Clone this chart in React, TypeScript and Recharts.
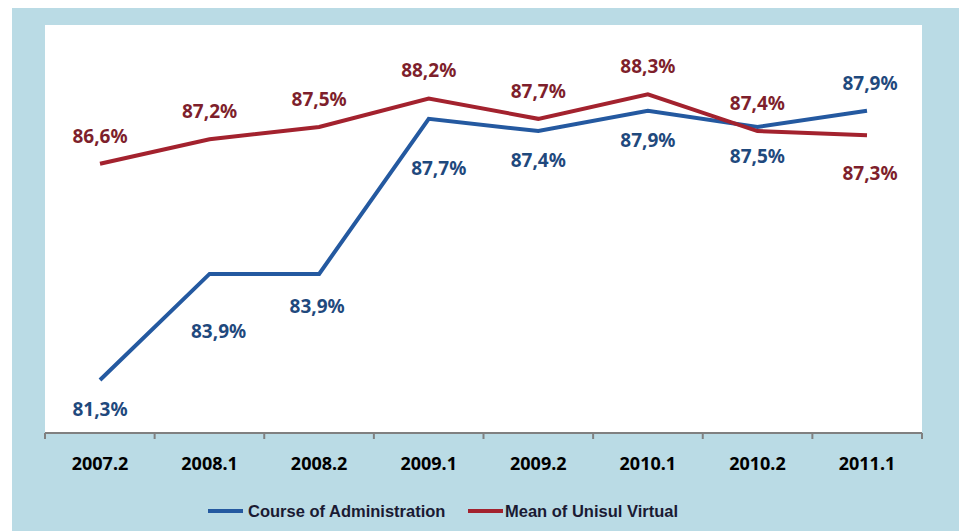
import React from 'react';
import { LineChart, Line, XAxis, YAxis, CartesianGrid, LabelList, Legend } from 'recharts';

// semesters on the x axis
const periods = ['2007.2', '2008.1', '2008.2', '2009.1', '2009.2', '2010.1', '2010.2', '2011.1'];
// satisfaction (%) per semester
const courseAdmin = [81.3, 83.9, 83.9, 87.7, 87.4, 87.9, 87.5, 87.9];
const unisulMean = [86.6, 87.2, 87.5, 88.2, 87.7, 88.3, 87.4, 87.3];
const boundaryTicks = [0, 1, 2, 3, 4, 5, 6, 7, 8];

const data = periods.map((period, i) => ({
  period,
  idx: i,
  course: courseAdmin[i],
  mean: unisulMean[i],
}));

const BLUE = '#2459a0';
const RED = '#a3222e';
const BLUE_TEXT = '#1f497d';
const RED_TEXT = '#7e1f2c';
const FONT = '"Noto Sans", sans-serif';
const LAST = periods.length - 1;

// hand nudges [dx, dy] for a few labels that sit further off the line
const courseNudge: Record<number, [number, number]> = { 1: [9, 57], 2: [-2, 32], 3: [10, 49] };

const fmt = (v: number) => v.toFixed(1).replace('.', ',') + '%';

// mean labels sit above its line, course labels below; swapped on the last point
const makeLabel = (series: 'course' | 'mean') => (props: any) => {
  const { x, y, value, index } = props;
  const above = series === 'mean' ? index !== LAST : index === LAST;
  let dy = above ? -28 : 29;
  let dx = 0;
  if (series === 'course' && courseNudge[index]) [dx, dy] = courseNudge[index];
  if (index === LAST) { dx = 3; if (!above) dy = 38; }
  return (
    <text
      x={x + dx}
      y={y + dy}
      textAnchor="middle"
      dominantBaseline="central"
      fontFamily={FONT}
      fontWeight={700}
      fontSize={19}
      fill={series === 'course' ? BLUE_TEXT : RED_TEXT}
    >
      {fmt(value)}
    </text>
  );
};

const renderLegend = () => (
  <div style={{ position: 'relative', height: 24, fontFamily: '"Liberation Sans", Arial, sans-serif', fontWeight: 700, fontSize: 16.5, color: '#1a1a33' }}>
    <div style={{ position: 'absolute', left: 196, top: 0, display: 'flex', alignItems: 'center', height: 24 }}>
      <span style={{ display: 'inline-block', width: 35, height: 4, background: BLUE, marginRight: 5 }} />
      <span>Course of Administration</span>
    </div>
    <div style={{ position: 'absolute', left: 456, top: 0, display: 'flex', alignItems: 'center', height: 24 }}>
      <span style={{ display: 'inline-block', width: 35, height: 4, background: RED, marginRight: 2 }} />
      <span>Mean of Unisul Virtual</span>
    </div>
  </div>
);

export default function App() {
  return (
    <div style={{ position: 'absolute', left: 0, top: 0, width: 959, height: 531, background: '#fff' }}>
      <div style={{ position: 'absolute', left: 12, top: 8, width: 947, height: 523, background: '#badbe5' }}>
        <LineChart width={947} height={523} data={data} margin={{ top: 17, right: 37, left: 33, bottom: 8 }}>
          <CartesianGrid horizontal={false} vertical={false} fill="#ffffff" />
          <XAxis
            xAxisId="b"
            type="number"
            dataKey="idx"
            domain={[0, 8]}
            ticks={boundaryTicks}
            allowDataOverflow
            height={1}
            tickFormatter={() => ''}
            tickSize={6}
            tickLine={{ stroke: '#808080', strokeWidth: 2 }}
            axisLine={{ stroke: '#808080', strokeWidth: 2 }}
          />
          <XAxis
            xAxisId="c"
            dataKey="period"
            height={65}
            padding={{ left: 55, right: 55 }}
            axisLine={false}
            tickLine={false}
            interval={0}
            dy={15}
            tick={{ fontFamily: FONT, fontWeight: 700, fontSize: 18, fill: '#000' }}
          />
          <YAxis hide domain={[80, 90]} />
          <Legend verticalAlign="bottom" content={renderLegend} wrapperStyle={{ left: 0, width: 947 }} />
          <Line
            xAxisId="c"
            dataKey="course"
            stroke={BLUE}
            strokeWidth={4}
            dot={false}
            isAnimationActive={false}
          >
            <LabelList dataKey="course" content={makeLabel('course')} />
          </Line>
          <Line
            xAxisId="c"
            dataKey="mean"
            stroke={RED}
            strokeWidth={4}
            dot={false}
            isAnimationActive={false}
          >
            <LabelList dataKey="mean" content={makeLabel('mean')} />
          </Line>
        </LineChart>
      </div>
    </div>
  );
}
